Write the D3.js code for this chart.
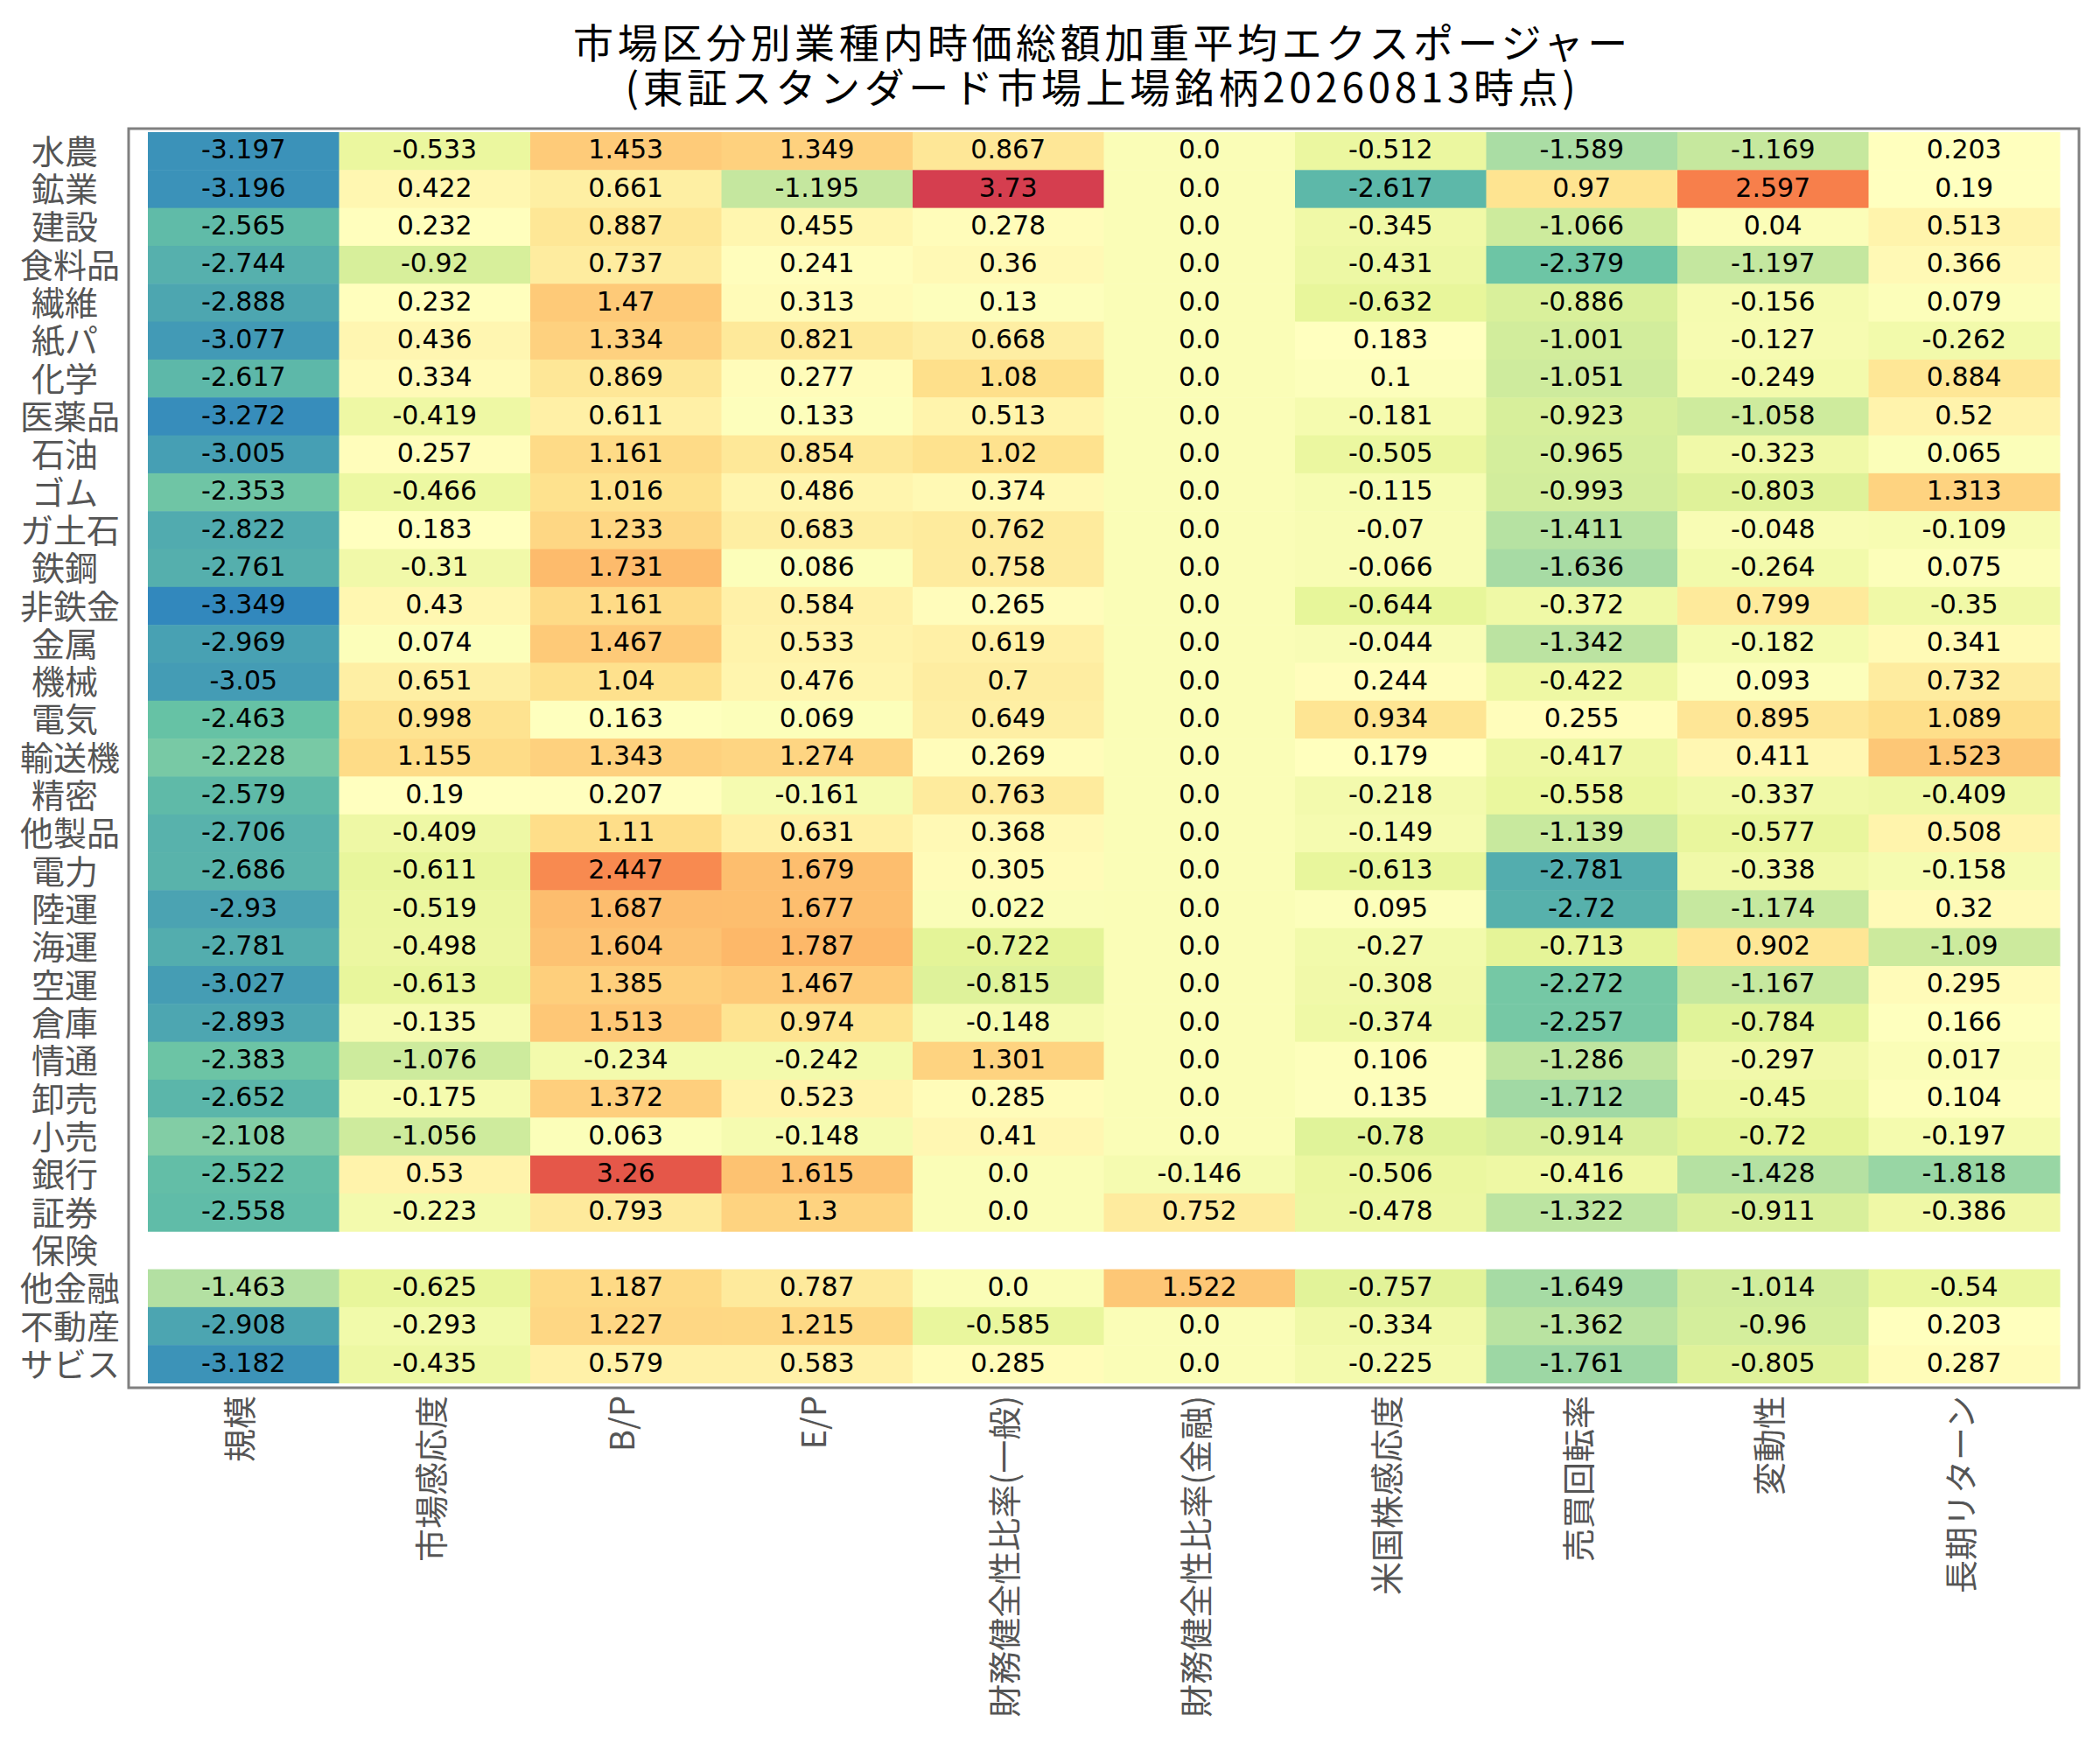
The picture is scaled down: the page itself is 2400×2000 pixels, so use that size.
<!DOCTYPE html>
<html>
<head>
<meta charset="utf-8">
<script src="https://cdn.jsdelivr.net/npm/d3@7"></script>
<style>
  body { margin: 0; background: #fff; }
</style>
</head>
<body>
<div id="container"></div>
<script>
/* CONSTANTS AND GLOBALS */
const width = 2400,
  height = 2000,
  frame = { left: 147, top: 147, right: 2376, bottom: 1586 },
  cells = { left: 169, top: 151, right: 2354, bottom: 1580.5 };

/* DATA */
const sectors = ["水農", "鉱業", "建設", "食料品", "繊維", "紙パ", "化学", "医薬品", "石油", "ゴム",
  "ガ土石", "鉄鋼", "非鉄金", "金属", "機械", "電気", "輸送機", "精密", "他製品", "電力",
  "陸運", "海運", "空運", "倉庫", "情通", "卸売", "小売", "銀行", "証券", "保険",
  "他金融", "不動産", "サビス"];

const factors = ["規模", "市場感応度", "B/P", "E/P", "財務健全性比率(一般)", "財務健全性比率(金融)",
  "米国株感応度", "売買回転率", "変動性", "長期リターン"];

// one row per sector, columns in the order of factors (保険 has no data)
const exposures = [
  [-3.197, -0.533, 1.453, 1.349, 0.867, 0.0, -0.512, -1.589, -1.169, 0.203],
  [-3.196, 0.422, 0.661, -1.195, 3.73, 0.0, -2.617, 0.97, 2.597, 0.19],
  [-2.565, 0.232, 0.887, 0.455, 0.278, 0.0, -0.345, -1.066, 0.04, 0.513],
  [-2.744, -0.92, 0.737, 0.241, 0.36, 0.0, -0.431, -2.379, -1.197, 0.366],
  [-2.888, 0.232, 1.47, 0.313, 0.13, 0.0, -0.632, -0.886, -0.156, 0.079],
  [-3.077, 0.436, 1.334, 0.821, 0.668, 0.0, 0.183, -1.001, -0.127, -0.262],
  [-2.617, 0.334, 0.869, 0.277, 1.08, 0.0, 0.1, -1.051, -0.249, 0.884],
  [-3.272, -0.419, 0.611, 0.133, 0.513, 0.0, -0.181, -0.923, -1.058, 0.52],
  [-3.005, 0.257, 1.161, 0.854, 1.02, 0.0, -0.505, -0.965, -0.323, 0.065],
  [-2.353, -0.466, 1.016, 0.486, 0.374, 0.0, -0.115, -0.993, -0.803, 1.313],
  [-2.822, 0.183, 1.233, 0.683, 0.762, 0.0, -0.07, -1.411, -0.048, -0.109],
  [-2.761, -0.31, 1.731, 0.086, 0.758, 0.0, -0.066, -1.636, -0.264, 0.075],
  [-3.349, 0.43, 1.161, 0.584, 0.265, 0.0, -0.644, -0.372, 0.799, -0.35],
  [-2.969, 0.074, 1.467, 0.533, 0.619, 0.0, -0.044, -1.342, -0.182, 0.341],
  [-3.05, 0.651, 1.04, 0.476, 0.7, 0.0, 0.244, -0.422, 0.093, 0.732],
  [-2.463, 0.998, 0.163, 0.069, 0.649, 0.0, 0.934, 0.255, 0.895, 1.089],
  [-2.228, 1.155, 1.343, 1.274, 0.269, 0.0, 0.179, -0.417, 0.411, 1.523],
  [-2.579, 0.19, 0.207, -0.161, 0.763, 0.0, -0.218, -0.558, -0.337, -0.409],
  [-2.706, -0.409, 1.11, 0.631, 0.368, 0.0, -0.149, -1.139, -0.577, 0.508],
  [-2.686, -0.611, 2.447, 1.679, 0.305, 0.0, -0.613, -2.781, -0.338, -0.158],
  [-2.93, -0.519, 1.687, 1.677, 0.022, 0.0, 0.095, -2.72, -1.174, 0.32],
  [-2.781, -0.498, 1.604, 1.787, -0.722, 0.0, -0.27, -0.713, 0.902, -1.09],
  [-3.027, -0.613, 1.385, 1.467, -0.815, 0.0, -0.308, -2.272, -1.167, 0.295],
  [-2.893, -0.135, 1.513, 0.974, -0.148, 0.0, -0.374, -2.257, -0.784, 0.166],
  [-2.383, -1.076, -0.234, -0.242, 1.301, 0.0, 0.106, -1.286, -0.297, 0.017],
  [-2.652, -0.175, 1.372, 0.523, 0.285, 0.0, 0.135, -1.712, -0.45, 0.104],
  [-2.108, -1.056, 0.063, -0.148, 0.41, 0.0, -0.78, -0.914, -0.72, -0.197],
  [-2.522, 0.53, 3.26, 1.615, 0.0, -0.146, -0.506, -0.416, -1.428, -1.818],
  [-2.558, -0.223, 0.793, 1.3, 0.0, 0.752, -0.478, -1.322, -0.911, -0.386],
  [null, null, null, null, null, null, null, null, null, null],
  [-1.463, -0.625, 1.187, 0.787, 0.0, 1.522, -0.757, -1.649, -1.014, -0.54],
  [-2.908, -0.293, 1.227, 1.215, -0.585, 0.0, -0.334, -1.362, -0.96, 0.203],
  [-3.182, -0.435, 0.579, 0.583, 0.285, 0.0, -0.225, -1.761, -0.805, 0.287]
];

const titleLines = ["市場区分別業種内時価総額加重平均エクスポージャー", "(東証スタンダード市場上場銘柄20260813時点)"];

// Spectral (9 class) reversed: low = blue, high = red
const palette = ["#3288bd", "#66c2a5", "#abdda4", "#e6f598", "#ffffbf", "#fee08b", "#fdae61", "#f46d43", "#d53e4f"];

// flatten to cell records
const cellData = [];
sectors.forEach((s, i) => {
  factors.forEach((f, j) => {
    const v = exposures[i][j];
    if (v !== null) cellData.push({ sector: s, factor: f, value: v });
  });
});

/* SCALES */
const xScale = d3.scaleBand()
  .domain(factors)
  .range([cells.left, cells.right])
  .padding(0);

const yScale = d3.scaleBand()
  .domain(sectors)
  .range([cells.top, cells.bottom])
  .padding(0);

const [vmin, vmax] = d3.extent(cellData, d => d.value);
const colorScale = d3.scaleLinear()
  .domain(palette.map((c, k) => vmin + (vmax - vmin) * k / (palette.length - 1)))
  .range(palette)
  .interpolate(d3.interpolateRgb);

const fmt = v => v === 0 ? "0.0" : String(v);

/* HTML ELEMENTS */
const svg = d3.select("#container")
  .append("svg")
  .attr("width", width)
  .attr("height", height)
  .style("background", "#fff");

// title
svg.append("g")
  .selectAll("text")
  .data(titleLines)
  .join("text")
  .attr("x", 1260)
  .attr("y", (d, i) => 66 + i * 51)
  .attr("text-anchor", "middle")
  .style("font-family", "'Noto Sans CJK JP', sans-serif")
  .style("font-size", "46px")
  .style("letter-spacing", "4.6px")
  .style("fill", "#000")
  .text(d => d);

// plot frame
svg.append("rect")
  .attr("x", frame.left)
  .attr("y", frame.top)
  .attr("width", frame.right - frame.left)
  .attr("height", frame.bottom - frame.top)
  .attr("fill", "#fff")
  .attr("stroke", "#808080")
  .attr("stroke-width", 3);

// cells
svg.append("g")
  .selectAll("rect")
  .data(cellData)
  .join("rect")
  .attr("x", d => xScale(d.factor))
  .attr("y", d => yScale(d.sector))
  .attr("width", xScale.bandwidth() + 0.5)
  .attr("height", yScale.bandwidth() + 0.5)
  .attr("fill", d => colorScale(d.value));

// cell labels
svg.append("g")
  .selectAll("text")
  .data(cellData)
  .join("text")
  .attr("x", d => xScale(d.factor) + xScale.bandwidth() / 2)
  .attr("y", d => yScale(d.sector) + yScale.bandwidth() / 2)
  .attr("dy", "0.29em")
  .attr("text-anchor", "middle")
  .style("font-family", "'DejaVu Sans', Verdana, sans-serif")
  .style("font-size", "30px")
  .style("fill", "#000")
  .text(d => fmt(d.value));

// y axis (sector names)
const yAxis = d3.axisLeft(yScale).tickSize(0);
svg.append("g")
  .attr("class", "y-axis")
  .call(yAxis)
  .call(g => g.select(".domain").remove())
  .call(g => g.selectAll("text")
    .attr("x", d => 62 - 13 * d.length)
    .attr("dy", "0.37em")
    .attr("text-anchor", "start")
    .style("font-family", "'Noto Sans CJK JP', sans-serif")
    .style("font-size", "38px")
    .style("fill", "#555"));

// x axis (factor names, rotated)
const xAxis = d3.axisBottom(xScale).tickSize(0);
svg.append("g")
  .attr("class", "x-axis")
  .attr("transform", `translate(0,1595)`)
  .call(xAxis)
  .call(g => g.select(".domain").remove())
  .call(g => g.selectAll("text")
    .attr("transform", "rotate(-90)")
    .attr("x", 0)
    .attr("y", 0)
    .attr("dy", "10px")
    .attr("text-anchor", "end")
    .style("font-family", "'Noto Sans CJK JP', sans-serif")
    .style("font-size", "38px")
    .style("fill", "#555"));
</script>
</body>
</html>
